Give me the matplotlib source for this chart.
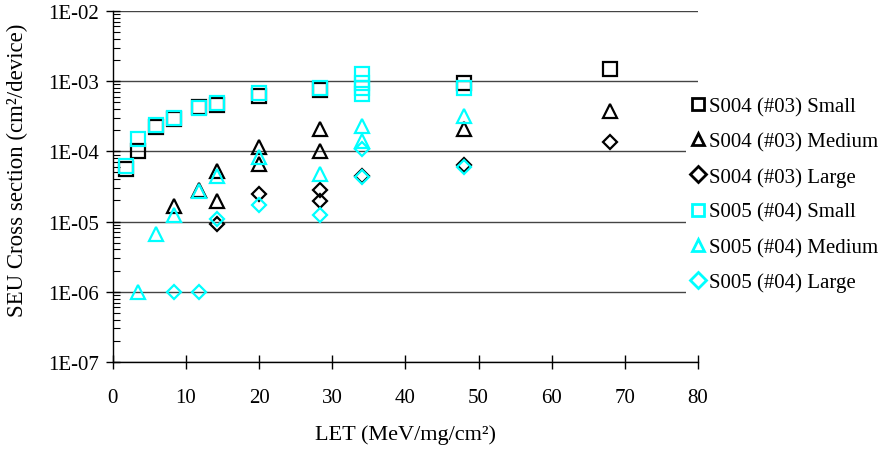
import matplotlib
matplotlib.use("Agg")
import matplotlib.pyplot as plt
import numpy as np
from matplotlib.ticker import FixedLocator, FuncFormatter, LogLocator, NullFormatter

plt.rcParams["font.family"] = ["Liberation Serif", "DejaVu Serif"]

# LET (MeV/mg/cm2) and cross sections (cm2/device)
s004_small_let = [1.8, 3.5, 5.9, 8.3, 11.8, 14.2, 20.0, 28.3, 48.0, 68.0]
s004_small_xs = [5.6e-5, 1.0e-4, 2.2e-4, 2.9e-4, 4.3e-4, 4.6e-4, 6.2e-4, 7.5e-4, 9.4e-4, 1.49e-3]

s004_medium_let = [8.3, 11.8, 14.2, 14.2, 20.0, 20.0, 28.3, 28.3, 48.0, 68.0]
s004_medium_xs = [1.65e-5, 2.8e-5, 5.3e-5, 1.99e-5, 1.15e-4, 6.6e-5, 2.1e-4, 1.0e-4, 2.05e-4, 3.7e-4]

s004_large_let = [14.2, 20.0, 28.3, 28.3, 34.0, 48.0, 68.0]
s004_large_xs = [9.3e-6, 2.45e-5, 2.85e-5, 1.95e-5, 4.4e-5, 6.3e-5, 1.37e-4]

s005_small_let = [1.8, 3.5, 5.9, 8.3, 11.8, 14.2, 20.0, 28.3, 34.0, 34.0, 34.0, 34.0, 48.0]
s005_small_xs = [6.1e-5, 1.5e-4, 2.4e-4, 3.0e-4, 4.1e-4, 4.8e-4, 6.8e-4, 7.9e-4,
                 1.27e-3, 9.5e-4, 8.0e-4, 6.6e-4, 8.1e-4]

s005_medium_let = [3.5, 5.9, 8.3, 11.8, 14.2, 20.0, 28.3, 34.0, 34.0, 48.0]
s005_medium_xs = [1.0e-6, 6.65e-6, 1.24e-5, 2.75e-5, 4.5e-5, 8.4e-5, 4.8e-5, 2.33e-4, 1.4e-4, 3.2e-4]

s005_large_let = [8.3, 11.8, 14.2, 20.0, 28.3, 34.0, 34.0, 48.0]
s005_large_xs = [1.0e-6, 1.0e-6, 1.09e-5, 1.72e-5, 1.25e-5, 1.08e-4, 4.3e-5, 6.0e-5]

series = [
    ("S004 (#03) Small", s004_small_let, s004_small_xs, "s", "black"),
    ("S004 (#03) Medium", s004_medium_let, s004_medium_xs, "^", "black"),
    ("S004 (#03) Large", s004_large_let, s004_large_xs, "D", "black"),
    ("S005 (#04) Small", s005_small_let, s005_small_xs, "s", "#00FFFF"),
    ("S005 (#04) Medium", s005_medium_let, s005_medium_xs, "^", "#00FFFF"),
    ("S005 (#04) Large", s005_large_let, s005_large_xs, "D", "#00FFFF"),
]
marker_size = {"s": 9.5, "^": 9.5, "D": 7.0}
FS = 15

fig = plt.figure(figsize=(8.89, 4.56), dpi=100)
ax = fig.add_axes([0.127, 0.204, 0.658, 0.770])

for label, x, y, m, c in series:
    ax.plot(x, y, linestyle="none", marker=m, markersize=marker_size[m],
            markerfacecolor="none", markeredgecolor=c, markeredgewidth=1.6,
            label=label, zorder=3)

ax.set_yscale("log")
ax.set_ylim(1e-7, 1e-2)
ax.set_xlim(0, 80)
ax.xaxis.set_major_locator(FixedLocator(np.arange(0, 81, 10)))
ax.yaxis.set_major_locator(LogLocator(base=10, numticks=10))
ax.yaxis.set_minor_locator(LogLocator(base=10, subs=np.arange(2, 10), numticks=10))
ax.yaxis.set_minor_formatter(NullFormatter())
ax.yaxis.set_major_formatter(FuncFormatter(lambda v, p: f"1E-{abs(int(round(np.log10(v)))):02d}"))

ax.grid(True, axis="y", which="major", color="#444444", linewidth=1.0, zorder=1)
ax.tick_params(axis="both", which="major", direction="inout", length=10, width=1,
               labelsize=FS, colors="black")
ax.tick_params(axis="y", which="minor", direction="in", length=5, width=0.8)
ax.tick_params(axis="x", pad=14)
ax.tick_params(axis="y", pad=5)

for side in ("top", "right"):
    ax.spines[side].set_visible(False)
for side in ("left", "bottom"):
    ax.spines[side].set_linewidth(1.0)
    ax.spines[side].set_color("black")

ax.set_xlabel("LET (MeV/mg/cm²)", fontsize=16, labelpad=12)
ax.set_ylabel("SEU Cross section (cm²/device)", fontsize=16.5, labelpad=8)
ax.yaxis.set_label_coords(-0.145, 0.55)

leg = ax.legend(loc="upper left", bbox_to_anchor=(0.772, 0.80), bbox_transform=fig.transFigure,
                frameon=True, framealpha=1, edgecolor="none", facecolor="white",
                fontsize=FS, handlelength=0.55, handletextpad=0.25, labelspacing=0.75,
                borderpad=0.3, borderaxespad=0)
for h in leg.legend_handles:
    h.set_markersize(8.5)
    h.set_markeredgewidth(2.0)

fig.savefig("out.png", dpi=100, facecolor="white")
